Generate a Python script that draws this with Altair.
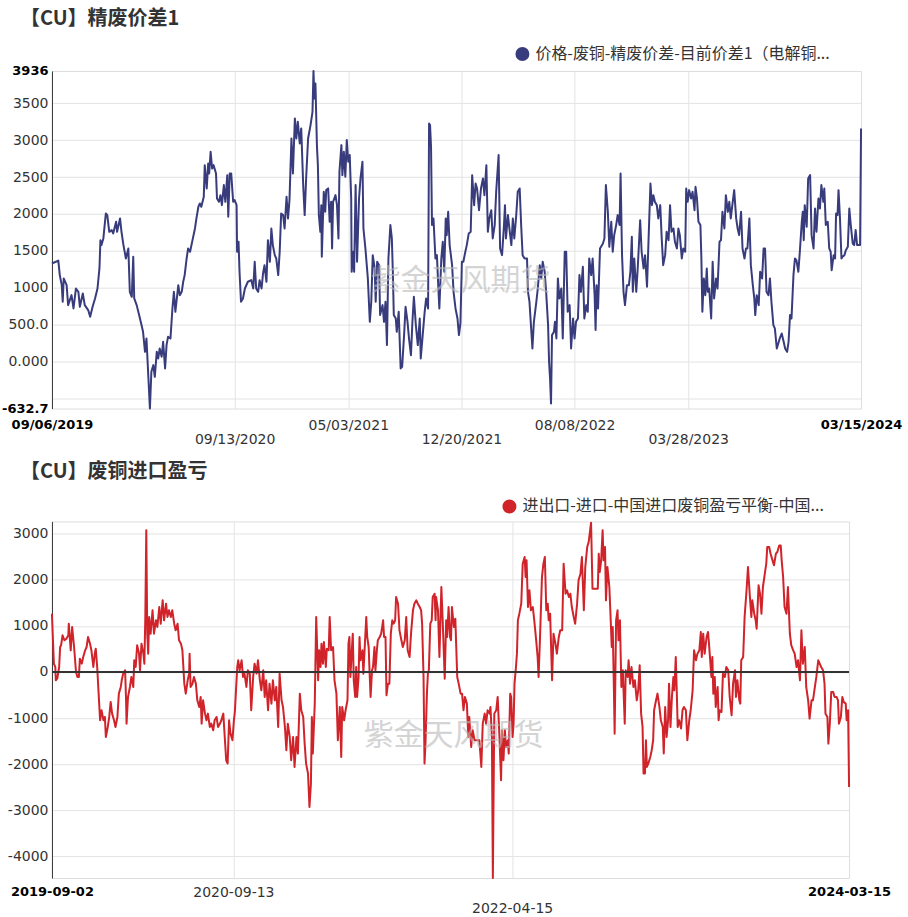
import altair as alt
import pandas as pd

# ---------------- data ----------------
top_start = "2019-09-06"
bot_start = "2019-09-02"

# days since 2019-09-06, refined-scrap copper spread (yuan/t)
top_day = [0, 13, 16, 20, 22, 24, 30, 33, 40, 44, 49, 54, 57, 63, 67, 74, 78, 83, 88, 93, 97, 99, 101, 105, 110, 113, 117, 122, 125, 131, 133, 139, 142, 146, 151, 156, 159, 163, 166, 168, 173, 178, 183, 186, 190, 193, 197, 200, 203, 207, 210, 214, 217, 220, 224, 227, 231, 234, 237, 242, 246, 249, 252, 258, 261, 265, 268, 271, 275, 278, 282, 287, 292, 295, 299, 302, 305, 310, 312, 316, 319, 321, 324, 327, 330, 335, 337, 341, 344, 347, 351, 354, 358, 360, 363, 366, 370, 373, 377, 378, 381, 383, 386, 390, 394, 400, 407, 411, 414, 417, 421, 424, 428, 431, 434, 438, 441, 445, 448, 451, 455, 458, 462, 465, 468, 472, 475, 479, 482, 485, 489, 492, 496, 499, 502, 506,
           509, 513, 516, 519, 523, 528, 532, 534, 536, 538, 541, 543, 545, 548, 550, 551, 555, 558, 560, 564, 567, 570, 572, 574, 579, 582, 585, 587, 591, 593, 596, 599, 602, 605, 608, 611, 612, 615, 617, 620, 623, 627, 630, 634, 636, 640, 645, 649, 652, 655, 659, 661, 664, 668, 670, 675, 678, 681, 684, 687, 691, 694, 696, 698, 702, 704, 708, 712, 715, 719, 722, 726, 729, 733, 736, 739, 743, 747, 751, 753, 757, 761, 764, 768, 770, 772, 774, 776, 779, 783, 786, 789, 791, 795, 798, 801, 804, 806, 809, 812, 817, 820, 824, 828, 831, 834, 837, 840, 844, 847, 851, 855, 858, 862, 865, 868, 872, 876, 880, 883, 887, 890, 893, 897, 900, 904, 907, 912, 915, 919, 923, 925, 927, 931, 934, 938, 941, 944, 948, 951, 955, 958, 961, 965, 970, 972, 975, 978, 981, 984, 989, 992, 996, 999, 1002, 1006, 1009, 1013, 1015, 1017, 1019, 1021, 1025, 1027, 1030, 1033, 1036, 1040, 1043, 1047, 1050, 1053, 1057, 1060, 1064, 1067, 1070, 1074, 1077,
           1080, 1084, 1087, 1091, 1094, 1097, 1101, 1104, 1108, 1110, 1112, 1115, 1119, 1125, 1128, 1131, 1135, 1138, 1142, 1145, 1148, 1152, 1155, 1159, 1161, 1164, 1167, 1170, 1174, 1178, 1181, 1184, 1186, 1189, 1193, 1196, 1201, 1204, 1208, 1211, 1215, 1218, 1222, 1225, 1228, 1231, 1235, 1238, 1242, 1245, 1248, 1252, 1255, 1259, 1262, 1265, 1269, 1272, 1276, 1279, 1282, 1286, 1289, 1293, 1295, 1298, 1301, 1305, 1308, 1312, 1314, 1317, 1320, 1324, 1326, 1328, 1331, 1334, 1337, 1339, 1342, 1346, 1349, 1352, 1356, 1359, 1363, 1366, 1369, 1373, 1376, 1380, 1383, 1386, 1390, 1393, 1397, 1400, 1403, 1407, 1410, 1414, 1417, 1420, 1424, 1427, 1431, 1434, 1436, 1439, 1443, 1446, 1450, 1453, 1456, 1459, 1463, 1466, 1469, 1473, 1476, 1480, 1483, 1486, 1490, 1494, 1497, 1501, 1504, 1507, 1510, 1514, 1517, 1520, 1524, 1527, 1531, 1533, 1535, 1537, 1541, 1544, 1548, 1551, 1555, 1558, 1561, 1565, 1568, 1571, 1575, 1577, 1580, 1584, 1587, 1590, 1592, 1596, 1599, 1601, 1604, 1606, 1609, 1612, 1614, 1618, 1621, 1625, 1628, 1631, 1635, 1638, 1641, 1644, 1650, 1652]
top_val = [1330, 1370, 1173, 1037, 812, 1128, 1037, 767, 902, 722, 992, 947, 744, 925, 767, 700, 609, 744, 857, 992, 1263, 1646, 1579, 1669, 2007, 1985, 1759, 1782, 1737, 1895, 1759, 1940, 1759, 1579, 1398, 1533, 947, 880, 1421, 857, 767, 632, 496, 406, 135, 316, -226, -632.7, -135, -45, -203, 135, 45, 180, 68, 271, -90, 226, 338, 316, 722, 947, 677, 1037, 902, 947, 1083, 1173, 1398, 1533, 1489, 1646, 1804, 1940, 2098, 2143, 2098, 2233, 2661, 2346, 2684, 2549, 2842, 2616, 2661, 2549, 2210, 2165, 2255, 2120, 2391, 2165, 2526, 1962, 2549, 2549, 2165, 2188, 2120, 1489, 1624, 1218, 812, 857, 992, 1083, 1105, 992, 1353, 992, 947, 1105, 992, 1195, 1308, 1083, 1646, 1353, 1804, 1579, 1443, 1398, 1173, 1489, 2007, 1985, 1804, 2233, 1940, 2188, 3022, 2549, 3293, 3022, 3248, 2955,
           3158, 2391, 1985, 2481, 3022, 3203, 3383, 3936, 3564, 3767, 2932, 2661, 1985, 1759, 2120, 1421, 2300, 2030, 2323, 2346, 1895, 2165, 1534, 2165, 2255, 2120, 1669, 2571, 2932, 2526, 2842, 2504, 3000, 2707, 2797, 2210, 1218, 1489, 1218, 2391, 1353, 2210, 2481, 2707, 1804, 1534, 1128, 541, 812, 1443, 1263, 812, 1353, 1308, 632, 767, 541, 812, 226, 1398, 1850, 1669, 1218, 632, 586, 406, 677, -90, -68, 361, 744, 541, 316, 90, 541, 880, 496, 226, 586, 45, 361, 677, 857, 722, 3225, 3203, 2910, 1850, 1940, 1398, 1443, 992, 722, 1398, 1624, 1218, 1940, 1714, 2030, 1579, 1308, 947, 722, 586, 361, 519, 1353, 1353, 1489, 1579, 1737, 1759, 2526, 2120, 2413, 2346, 2052, 2346, 2481, 2255, 2661, 1759, 1940, 2052, 1669, 1850, 2300, 2797, 1534, 1443, 1850, 2120, 1669, 1985, 1804, 1579, 1940, 1669, 1985, 2300, 2346, 1850, 1443, 1398, 1398, 947, 812, 496, 180, 541, 812, 992, 1308, 1128, 1353, 1218, 947, 496, 0, -226, -564, 361, 406, 541, 316, 1128, 857, 992, 316, 1489, 1489, 677, 767, 180, 586, 316, 541, 586, 1173,
           947, 1286, 586, 767, 677, 1398, 1173, 1398, 902, 429, 1037, 722, 1534, 1601, 1669, 2391, 2030, 1556, 1895, 1489, 1714, 1850, 1985, 1850, 2549, 1443, 947, 767, 1037, 1037, 1218, 1692, 947, 1398, 947, 1263, 1917, 1489, 1263, 1443, 1015, 1624, 2413, 2120, 2255, 2165, 2120, 1940, 2120, 1669, 1308, 1443, 1759, 1646, 2120, 1759, 1804, 1624, 1534, 1804, 1714, 1398, 1534, 1489, 2346, 2165, 2323, 2210, 2300, 2052, 2368, 2210, 1895, 1850, 1398, 677, 1128, 902, 1263, 947, 992, 586, 1353, 857, 1128, 992, 1624, 1646, 2030, 1804, 2255, 2030, 2165, 1940, 2165, 2323, 1940, 1804, 1714, 2030, 1534, 1398, 1534, 1534, 1940, 1308, 1037, 857, 632, 902, 767, 1218, 1128, 1534, 1534, 947, 902, 1128, 812, 496, 451, 180, 248, 316, 383, 271, 180, 135, 271, 632, 586, 1173, 1398, 1376, 1218, 1489, 1895, 2030, 1646, 2120, 1827, 2481, 2526, 1714, 1534, 2075, 1759, 2210, 2075, 2391, 2165, 2346, 1850, 1895, 1534, 1489, 1240, 1443, 1398, 2007, 1985, 2323, 1940, 1398, 1421, 1443, 1511, 1556, 2075, 1850, 1601, 1579, 1782, 1579, 1579, 3158]

# days since 2019-09-02, China scrap copper import profit/loss (yuan/t)
bot_day = [0, 4, 7, 8, 11, 15, 17, 19, 22, 26, 30, 34, 35, 39, 42, 46, 50, 53, 56, 58, 62, 65, 69, 72, 75, 79, 82, 86, 89, 91, 94, 97, 100, 103, 107, 110, 112, 116, 119, 122, 125, 129, 132, 136, 139, 143, 145, 148, 152, 154, 155, 158, 162, 165, 169, 171, 174, 177, 181, 183, 186, 190, 192, 194, 196, 198, 200, 202, 205, 209, 212, 216, 219, 223, 226, 230, 233, 237, 240, 243, 247, 250, 254, 257, 261, 264, 268, 271, 275, 278, 282, 285, 286, 288, 292, 295, 299, 302, 306, 309, 311, 314, 318, 321, 324, 328, 331, 335, 338, 342, 345, 349, 352, 356, 359, 362, 365, 368, 371, 375, 378, 380, 382, 385, 387, 390, 394, 397, 400, 404, 407, 411, 414, 418, 421, 425, 428, 432, 435, 439, 442, 445, 449, 452, 456, 459, 463, 466, 470, 473, 477, 480, 484, 487, 490, 494, 497, 501, 504, 508, 511, 515,
           518, 522, 525, 528, 532, 535, 538, 540, 542, 546, 549, 553, 555, 558, 560, 563, 565, 569, 571, 575, 577, 580, 584, 587, 591, 594, 598, 601, 603, 607, 610, 614, 616, 618, 620, 623, 625, 627, 630, 632, 634, 637, 639, 641, 645, 647, 650, 653, 655, 658, 660, 662, 665, 667, 670, 672, 675, 677, 681, 684, 688, 690, 693, 695, 698, 701, 704, 707, 710, 713, 715, 719, 722, 726, 729, 733, 736, 739, 743, 746, 750, 753, 757, 760, 764, 767, 769, 772, 774, 776, 779, 781, 783, 786, 789, 791, 795, 797, 798, 802, 805, 809, 812, 816, 819, 821, 824, 827, 829, 831, 835, 838, 842, 845, 849, 852, 855, 858, 862, 865, 867, 871, 874, 878, 881, 885, 888, 892, 895, 899, 902, 905, 909, 911, 914, 916, 917, 919, 923, 926, 930, 933, 935, 938, 941, 943, 947, 949, 952, 954, 957, 959, 961, 964, 966, 968, 971, 975, 978, 982, 984, 986, 989, 992, 995, 999, 1002, 1006, 1009, 1011, 1014, 1018, 1021, 1024, 1027, 1030, 1032, 1035, 1039, 1042, 1046, 1049, 1053, 1056, 1060, 1063, 1067, 1070, 1074, 1077, 1080, 1084, 1087, 1091, 1094, 1098, 1101, 1105, 1108, 1112, 1115,
           1120, 1123, 1127, 1130, 1134, 1136, 1138, 1141, 1144, 1146, 1149, 1151, 1154, 1158, 1160, 1163, 1165, 1167, 1169, 1172, 1175, 1177, 1180, 1183, 1186, 1188, 1190, 1192, 1196, 1198, 1201, 1204, 1208, 1211, 1215, 1218, 1221, 1224, 1227, 1229, 1232, 1234, 1236, 1239, 1243, 1246, 1249, 1251, 1255, 1258, 1262, 1265, 1269, 1271, 1274, 1277, 1280, 1282, 1285, 1288, 1291, 1293, 1296, 1298, 1300, 1303, 1307, 1310, 1313, 1317, 1320, 1324, 1327, 1331, 1334, 1338, 1341, 1345, 1348, 1350, 1353, 1356, 1360, 1363, 1365, 1368, 1370, 1372, 1374, 1377, 1379, 1383, 1385, 1387, 1391, 1394, 1398, 1401, 1405, 1408, 1412, 1415, 1419, 1421, 1424, 1428, 1430, 1432, 1436, 1439, 1443, 1446, 1450, 1453, 1455, 1459, 1462, 1464, 1468, 1471, 1474, 1477, 1481, 1484, 1486, 1490, 1493, 1497, 1500, 1504, 1507, 1511, 1514, 1516, 1519, 1522, 1526, 1529, 1533, 1536, 1540, 1543, 1547, 1550, 1554, 1557, 1560, 1564, 1567, 1571, 1574, 1578, 1581, 1585, 1588, 1592, 1595, 1598, 1602, 1605, 1607, 1611, 1613, 1616, 1619, 1623, 1626, 1630, 1633, 1635, 1639, 1642, 1645, 1649, 1651, 1654, 1656]
bot_val = [1265, 181, 108, -181, -145, 108, 542, 578, 795, 687, 723, 795, 1048, 470, 976, 542, 0, -108, -108, 289, 181, 325, 470, 542, 759, 615, 470, 108, 398, 506, 108, -470, -1048, -831, -1048, -976, -1410, -1193, -976, -651, -904, -1048, -1193, -976, -470, -325, -181, -36, 36, -615, -1121, -542, -325, -108, -325, 253, 108, 578, 398, 36, 615, 398, 181, 1193, 3073, 831, 398, 1193, 831, 1338, 831, 1121, 976, 1410, 1048, 1554, 1121, 1482, 1193, 1338, 1193, 1338, 1048, 904, 1048, 687, 615, 470, -253, -470, -181, -36, 398, -325, -253, -108, -253, -615, -759, -542, -1121, -615, -904, -1048, -904, -1193, -1121, -1265, -1048, -976, -1193, -1121, -1048, -904, -1410, -1916, -1988, -1048, -1338, -1482, -1048, -868, -470, 108, 253, 36, 253, -108, -36, -325, 36, -36, -831, -108, 181, -36, 253, -181, -398, 36, -542, -181, -831, -253, -687, -181, -615, -325, -1193, -36, -615, -759, -1193, -1699, -1121, -1410, -1916, -1410, -2061, -1410, -1771, -470,
           -831, -976, -1555, -1988, -2205, -2928, -2422, -976, -1771, -687, 1193, -181, 470, 108, 615, 181, 651, 108, 506, 470, 1193, 470, 542, -181, -470, -1482, -759, -1844, -759, -1048, -831, -615, 615, 759, -108, 470, 831, -181, -542, 108, -542, -108, 759, 253, 470, -36, 578, 1193, 759, 542, -36, -542, 36, 108, 542, 36, 470, 687, 759, 831, 1121, 759, 759, -506, -253, -253, 831, 1121, 1048, 1121, 1627, 1482, 904, 687, 542, 687, 1193, 470, 325, 831, 1338, 1482, 1554, 1482, 1410, 1338, 1048, -108, -1988, -1555, -470, -36, 36, 1048, 1121, 1627, 1699, 1121, 1627, 1338, 325, 1844, 1048, -145, 1121, 759, 1410, 759, 687, 1410, 976, 1157, -108, -253, -470, -470, -831, -542, -687, -1410, -976, -1627, -1265, -1482, -1482, -1482, -1482, -2061, -1121, -904, -1121, -831, -904, -759, -1410, -4472, -3217, -904, -831, -542, -1482, -2350, -1265, -1916, -1265, -1627, -1482, -1771, -470, -542, -1410, -1121, -253, 108, 398, 1121, 1265, 1482, 2350, 2494, 2061, 2422, 1410, 1771, 1338, 1410, 1121, 687, 325, -108, 759, 2061, 2350, 2494, 1338, 1482, 1121, 1265, -181, 831, 615, 398, 759, 904, 904, 2350, 1699, 1771, 1627, 1699, 1410, 1193, 1048, 1482, 1988, 2133, 2494, 1338, 2278, 2711, 2820,
           3240, 1808, 1808, 1808, 1808, 2567, 2169, 2422, 3073, 2422, 2711, 1554, 2278, 1844, 1338, 542, 976, -108, -1338, 1121, 1338, 687, 1121, -325, 36, -542, -1121, 36, -108, 253, -253, 108, -325, -181, -615, -398, 145, -904, -1193, -2205, -2205, -1482, -2061, -1988, -1844, -1699, -1482, -831, -615, -470, -759, -1048, -1193, -1771, -759, -1410, -1048, -253, -1193, -542, -108, -398, 325, -398, -1193, -1048, -1229, -831, -759, -831, -1482, -1048, -831, -398, 470, 253, 398, 470, 868, 325, 831, 398, 759, 868, 615, 181, -108, 325, -470, -108, -759, -325, -1048, -831, -868, -36, -108, 108, 36, -542, -940, -253, 36, -542, -181, -615, -687, 253, 325, 1193, 1771, 2278, 1627, 1193, 1554, 1265, 1121, 940, 1880, 1699, 1265, 1844, 2133, 2350, 2711, 2711, 2567, 2422, 2314, 2567, 2603, 2747, 2747, 2422, 2061, 1410, 1265, 1844, 831, 578, 470, 398, 108, 253, -181, 904, 181, 542, -325, -615, -1012, -615, -615, -325, -108, 253, 181, 108, 36, -253, -904, -976, -1555, -1121, -434, -434, -542, -542, -615, -1121, -976, -542, -651, -687, -1048, -831, -2494]

top_name = "价格-废铜-精废价差-目前价差1（电解铜..."
bot_name = "进出口-进口-中国进口废铜盈亏平衡-中国..."
top_title = "【CU】精废价差1"
bot_title = "【CU】废铜进口盈亏"
watermark = "紫金天风期货"

top_ticks = ["2019-09-06", "2020-09-13", "2021-05-03", "2021-12-20", "2022-08-08", "2023-03-28", "2024-03-15"]
bot_ticks = ["2019-09-02", "2020-09-13", "2022-04-15", "2024-03-15"]
top_yticks = [-632.7, -500, 0, 500, 1000, 1500, 2000, 2500, 3000, 3500, 3936]
bot_yticks = [-4000, -3000, -2000, -1000, 0, 1000, 2000, 3000]
bot_ydomain = [-4472, 3267]

# ---------------- build ----------------
def frame(start, days, vals, name):
    d = pd.Timestamp(start) + pd.to_timedelta(days, unit="D")
    return pd.DataFrame({"date": d.strftime("%Y-%m-%d"), "value": vals, "series": name})

top_df = frame(top_start, top_day, top_val, top_name)
bot_df = frame(bot_start, bot_day, bot_val, bot_name)

def dt(s):
    y, m, d = (int(p) for p in s.split("-"))
    return alt.DateTime(year=y, month=m, date=d, utc=True)

def utc_expr(s):
    y, m, d = (int(p) for p in s.split("-"))
    return f"utc({y},{m-1},{d})"

FONT = "DejaVu Sans"
CJK = "Noto Sans CJK SC"
GRID = "#e3e3e3"

def cond(test, a, b):
    return {"condition": {"test": test, "value": a}, "value": b}

def x_axis(ticks, fmt, second_row, pad, lh):
    first, last = ticks[0], ticks[-1]
    edge = f"(datum.value <= {utc_expr(first)} + 43200000 || datum.value >= {utc_expr(last)} - 43200000)"
    rows = "[" + ",".join(f"'{t}'" for t in second_row) + "]"
    lbl = f"utcFormat(datum.value, '{fmt}')"
    return alt.Axis(
        values=[dt(t) for t in ticks],
        labelExpr=f"indexof({rows}, utcFormat(datum.value, '%Y-%m-%d')) >= 0 ? ['', {lbl}] : {lbl}",
        title=None, domain=False, ticks=False,
        labelFont=FONT, labelPadding=pad, labelLineHeight=lh,
        labelAlign="center", labelBaseline="top", labelFlush=False, labelOverlap=False,
        labelFontSize=cond(edge, 13, 14),
        labelFontWeight=cond(edge, "bold", "normal"),
        labelColor=cond(edge, "#000000", "#333333"),
        grid=True, gridColor=GRID, gridWidth=1,
        gridOpacity=cond(edge, 0, 1),
    )

top_edge = "(abs(datum.value - 3936) < 0.01 || abs(datum.value + 632.7) < 0.01)"
top_y_axis = alt.Axis(
    values=top_yticks, title=None, ticks=False, domain=True, domainColor="#333333", domainWidth=1,
    labelExpr="abs(datum.value + 500) < 0.01 ? '' : abs(datum.value - 500) < 0.01 ? '500.0' : "
              "abs(datum.value) < 0.01 ? '0.000' : abs(datum.value + 632.7) < 0.01 ? '-632.7' : format(datum.value, 'd')",
    labelFont=FONT, labelPadding=4,
    labelFontSize=cond(top_edge, 13, 14),
    labelFontWeight=cond(top_edge, "bold", "normal"),
    labelColor=cond(top_edge, "#000000", "#333333"),
    grid=True, gridColor=GRID, gridWidth=1,
    gridOpacity=cond(top_edge, 0, 1),
)
bot_y_axis = alt.Axis(
    values=bot_yticks, title=None, ticks=False, domain=True, domainColor="#333333", domainWidth=1,
    labelExpr="'' + datum.value", labelFont=FONT, labelFontSize=14, labelPadding=4, labelColor="#333333",
    grid=True, gridColor=GRID, gridWidth=1,
)

def legend(x, y, color):
    return alt.Legend(
        orient="none", legendX=x, legendY=y, title=None, padding=0,
        symbolType="circle", symbolSize=56, symbolStrokeWidth=6.5, symbolOpacity=1,
        symbolFillColor=color, symbolStrokeColor=color,
        labelFont=CJK, labelFontSize=16, labelColor="#333333", labelLimit=0, labelOffset=5,
    )

def title(text):
    return alt.TitleParams(text=text, anchor="start", frame="group", dx=-32, offset=16.5,
                           font=CJK, fontSize=20, fontWeight="bold", color="#333333")

TOP_COLOR = "#383c7c"
BOT_COLOR = "#d0232a"

top_line = alt.Chart(top_df).mark_line(strokeWidth=2, strokeJoin="round").encode(
    x=alt.X("date:T", scale=alt.Scale(type="utc", domain=[dt(top_ticks[0]), dt(top_ticks[-1])]),
            axis=x_axis(top_ticks, "%m/%d/%Y", ["2020-09-13", "2021-12-20", "2023-03-28"], 10, 14)),
    y=alt.Y("value:Q", scale=alt.Scale(domain=[top_yticks[0], top_yticks[-1]], nice=False, zero=False),
            axis=top_y_axis),
    color=alt.Color("series:N", scale=alt.Scale(range=[TOP_COLOR]), legend=legend(463, -25, TOP_COLOR)),
)
top_wm = alt.Chart(pd.DataFrame({"t": [watermark]})).mark_text(
    font=CJK, fontSize=30, color="#b8b8b8", opacity=0.6
).encode(text="t:N", x=alt.value(409), y=alt.value(210))

top_chart = alt.layer(top_line, top_wm).properties(width=810, height=338, title=title(top_title))

bot_line = alt.Chart(bot_df).mark_line(strokeWidth=2, strokeJoin="round").encode(
    x=alt.X("date:T", scale=alt.Scale(type="utc", domain=[dt(bot_ticks[0]), dt(bot_ticks[-1])]),
            axis=x_axis(bot_ticks, "%Y-%m-%d", ["2022-04-15"], 7, 17)),
    y=alt.Y("value:Q", scale=alt.Scale(domain=bot_ydomain, nice=False, zero=False), axis=bot_y_axis),
    color=alt.Color("series:N", scale=alt.Scale(range=[BOT_COLOR]), legend=legend(450, -23, BOT_COLOR)),
)
bot_zero = alt.Chart(pd.DataFrame({"z": [0]})).mark_rule(color="#333333", strokeWidth=2).encode(y="z:Q")
bot_wm = alt.Chart(pd.DataFrame({"t": [watermark]})).mark_text(
    font=CJK, fontSize=30, color="#b8b8b8", opacity=0.6
).encode(text="t:N", x=alt.value(402), y=alt.value(215))

bot_chart = alt.layer(bot_line, bot_zero, bot_wm).properties(width=798, height=357, title=title(bot_title))

chart = alt.vconcat(top_chart, bot_chart, spacing=14).resolve_scale(color="independent").properties(
    padding={"left": 0, "right": 5, "top": 8.5, "bottom": 0}
).configure_view(stroke=None).configure(background="white")

chart.save("out.html", embed_options={"renderer": "svg", "actions": False})
